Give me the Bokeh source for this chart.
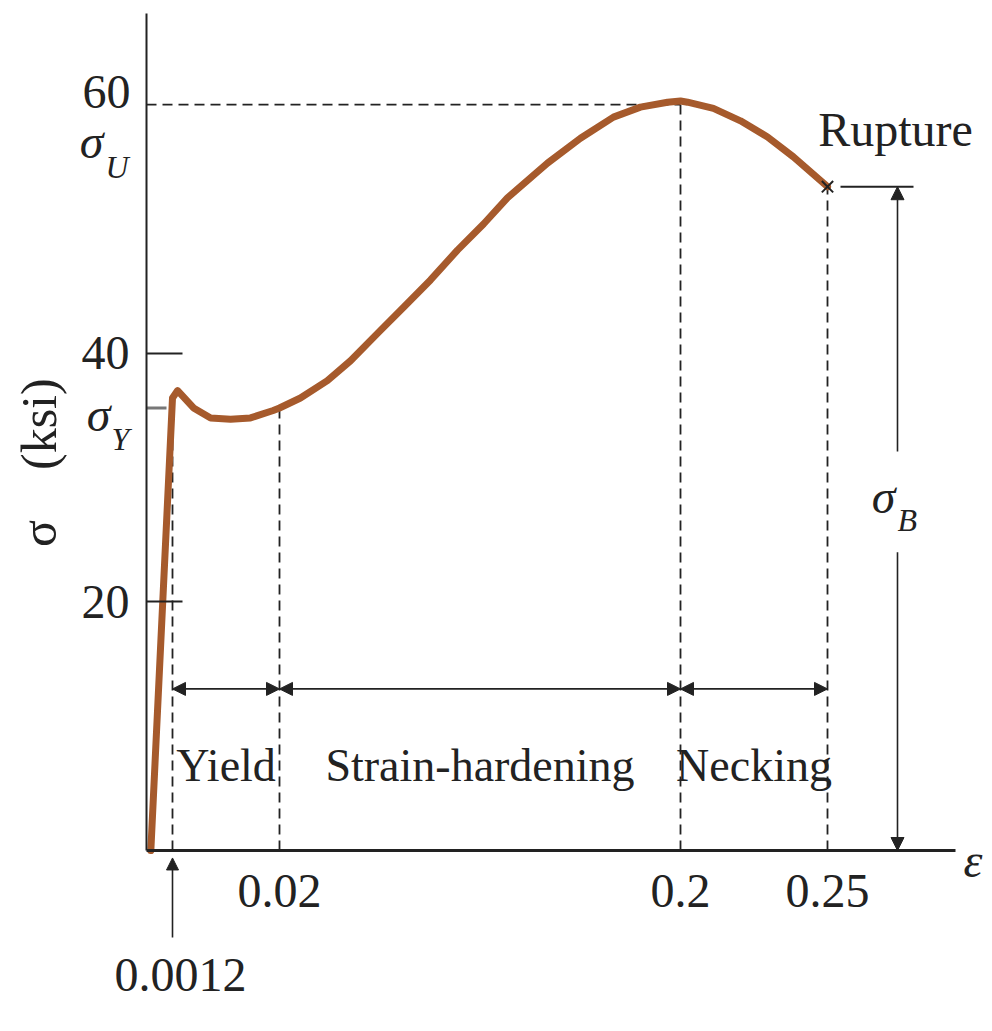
import numpy as np
from bokeh.plotting import figure
from bokeh.models import FixedTicker, Label, Arrow, NormalHead, Range1d, LinearAxis
from bokeh.embed import file_html
from bokeh.resources import INLINE

# ---------------- data ----------------
strain = [0.0002, 0.0012, 0.0021, 0.0049, 0.0079, 0.0114, 0.0149, 0.0189, 0.02,
          0.0294, 0.0415, 0.0519, 0.0640, 0.0757, 0.0878, 0.0999, 0.1116,
          0.1223, 0.1403, 0.1551, 0.1699, 0.1820, 0.1942, 0.2, 0.2024,
          0.2112, 0.2204, 0.2296, 0.2384, 0.25]
stress = [0, 36.4, 37.0, 35.6, 34.8, 34.7, 34.8, 35.4, 35.6,
          36.4, 37.8, 39.4, 41.6, 43.7, 45.9, 48.3, 50.4,
          52.5, 55.3, 57.3, 59.0, 59.8, 60.2, 60.3, 60.2,
          59.7, 58.7, 57.4, 55.8, 53.4]

x_tick_values = [0.02, 0.2, 0.25]
x_tick_labels = ["0.02", "0.2", "0.25"]
proportional_limit = 0.0012
proportional_label = "0.0012"
y_tick_values = [20, 40]
y_tick_labels = ["20", "40"]
sigma_U = 60
sigma_Y = 35.6
sigma_B = 53.4
stage_names = ["Yield", "Strain-hardening", "Necking"]
stage_bounds = [0.0012, 0.02, 0.2, 0.25]

# -------- schematic (not to scale) strain axis: piecewise-linear scale --------
AXIS_STRAIN = [0, 0.0012, 0.02, 0.2, 0.25, 0.30]
AXIS_POS = [0, 26, 133, 534, 681, 828]


def X(s):
    r = np.interp(s, AXIS_STRAIN, AXIS_POS)
    return float(r) if np.ndim(r) == 0 else r


SERIF = "Liberation Serif"
INK = "#222222"
CURVE = "#A65A2C"

p = figure(width=992, height=1031, x_range=Range1d(-146, 846), y_range=Range1d(-14.56, 68.38),
           output_backend="svg", toolbar_location=None,
           x_axis_location=None, y_axis_location=None,
           min_border_left=0, min_border_right=0, min_border_top=0, min_border_bottom=0)
p.grid.visible = False
p.outline_line_color = None
p.background_fill_color = "white"

# axes, crossing at the origin
xa = LinearAxis(fixed_location=0)
xa.ticker = FixedTicker(ticks=[X(t) for t in x_tick_values])
xa.major_label_overrides = {X(t): lab for t, lab in zip(x_tick_values, x_tick_labels)}
xa.major_tick_in = 0
xa.major_tick_out = 0
xa.minor_tick_in = 0
xa.minor_tick_out = 0
xa.axis_line_width = 3
xa.axis_line_color = INK
xa.bounds = (0, 809)
xa.major_label_text_font = SERIF
xa.major_label_text_font_size = "48px"
xa.major_label_text_color = INK
xa.major_label_standoff = 24
p.add_layout(xa, "below")

ya = LinearAxis(fixed_location=0)
ya.ticker = FixedTicker(ticks=y_tick_values)
ya.major_label_overrides = {v: lab for v, lab in zip(y_tick_values, y_tick_labels)}
ya.major_tick_in = 36
ya.major_tick_out = 0
ya.minor_tick_in = 0
ya.minor_tick_out = 0
ya.major_tick_line_width = 2
ya.major_tick_line_color = INK
ya.axis_line_width = 2
ya.axis_line_color = INK
ya.bounds = (0, 67.3)
ya.major_label_text_font = SERIF
ya.major_label_text_font_size = "48px"
ya.major_label_text_color = INK
ya.major_label_standoff = 17
p.add_layout(ya, "left")

# dashed guide lines
sx = X(proportional_limit)
p.segment(x0=[X(0), sx, X(0.02), X(0.2), X(0.25)],
          y0=[sigma_U, 0, 0, 0, 0],
          x1=[X(0.2), sx, X(0.02), X(0.2), X(0.25)],
          y1=[sigma_U, stress[1], sigma_Y, sigma_U, sigma_B],
          line_color=INK, line_width=1.8, line_dash="10 6")

# sigma_Y short tick
p.segment(x0=[0], y0=[sigma_Y], x1=[20], y1=[sigma_Y], line_color="#777777", line_width=3)

# stress-strain curve
p.line(X(np.array(strain)), stress, line_width=7, line_color=CURVE,
       line_cap="round", line_join="round")

# rupture marker and reference line
p.scatter([X(0.25)], [sigma_B], marker="x", size=16, line_color=INK, line_width=2)
p.segment(x0=[X(0.25) + 13], y0=[sigma_B], x1=[X(0.25) + 86], y1=[sigma_B],
          line_color=INK, line_width=2)


def head():
    return NormalHead(size=13, fill_color=INK, line_color=INK)


# stage arrows and labels
ARROW_Y = 13.0
for a, b, name in zip(stage_bounds[:-1], stage_bounds[1:], stage_names):
    p.add_layout(Arrow(x_start=X(a), y_start=ARROW_Y, x_end=X(b), y_end=ARROW_Y,
                       start=head(), end=head(), line_color=INK, line_width=1.6))
    p.add_layout(Label(x=(X(a) + X(b)) / 2, y=6.8, text=name, text_font=SERIF,
                       text_font_size="46px", text_color=INK,
                       text_align="center", text_baseline="middle"))

# sigma_B dimension arrow (with gap for its label)
bx = X(0.25) + 70
p.add_layout(Arrow(x_start=bx, y_start=32.1, x_end=bx, y_end=sigma_B,
                   end=head(), line_color=INK, line_width=1.6))
p.add_layout(Arrow(x_start=bx, y_start=24.0, x_end=bx, y_end=0,
                   end=head(), line_color=INK, line_width=1.6))

# arrow pointing at the proportional limit
p.add_layout(Arrow(x_start=sx, y_start=-7.0, x_end=sx, y_end=-0.6,
                   end=NormalHead(size=12, fill_color=INK, line_color=INK),
                   line_color=INK, line_width=1.6))


def lab(x, y, text, size="48px", style="normal", align="left", angle=0):
    p.add_layout(Label(x=x, y=y, text=text, text_font=SERIF, text_font_size=size,
                       text_font_style=style, text_color=INK, text_align=align,
                       text_baseline="middle", angle=angle))


lab(sx + 8, -10.0, proportional_label, align="center")
lab(-16, 61.0, "60", align="right")
lab(-43, 57.0, "σ", style="italic", align="right")
lab(-41, 55.0, "U", size="32px", style="italic")
lab(-36, 35.1, "σ", style="italic", align="right")
lab(-35, 33.1, "Y", size="32px", style="italic")
lab(bx - 2, 28.5, "σ", style="italic", align="right")
lab(bx, 26.6, "B", size="32px", style="italic")
lab(X(0.25) + 68, 58.0, "Rupture", align="center")
lab(817, -0.8, "ε", style="italic")
lab(-108, 31.2, "σ\u2003(ksi)", size="50px", align="center", angle=np.pi / 2)

open("out.html", "w").write(file_html(p, INLINE))
